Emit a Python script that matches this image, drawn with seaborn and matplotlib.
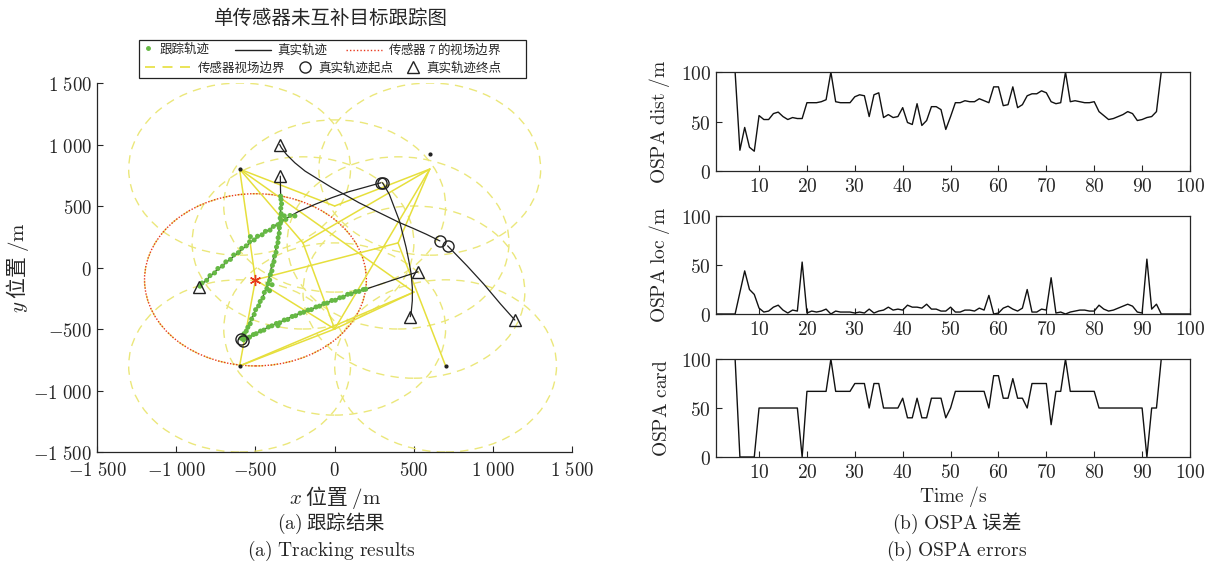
import numpy as np
import pandas as pd
import matplotlib
matplotlib.use('Agg')
import matplotlib.pyplot as plt
from matplotlib.patches import Circle, Rectangle
from matplotlib.lines import Line2D
import seaborn as sns

# ---------------- data ----------------
sensor_x = [-600, 600, -600, 700, 0, 0, -500, -200, 400, 500]
sensor_y = [800, 800, -800, -800, 500, -500, -100, 200, 200, -200]
sensor_r = 700
sensor7 = 6
edges = [(0, 4), (0, 7), (0, 6), (0, 9), (1, 4), (1, 5), (1, 7), (1, 8),
         (2, 6), (2, 5), (2, 9), (3, 8), (5, 7), (5, 6), (5, 9), (6, 8)]

clutter_x = [-600, -600, 700, 600]
clutter_y = [800, -800, -800, 920]

trackA_x = [-592, -549, -507, -464, -430, -410, -390, -368, -352, -343, -340, -342, -343]
trackA_y = [-581, -486, -365, -270, -170, -60, 54, 162, 290, 420, 540, 640, 743]
trackB_x = [-581, -530, -485, -400, -315, -230, -145, -60, 26, 111, 196, 360, 526]
trackB_y = [-595, -560, -527, -473, -427, -378, -338, -292, -251, -208, -176, -105, -35]
trackC_x = [292, 196, 89, -17, -123, -230, -315, -379, -443, -507, -571, -634, -698, -762, -826, -858]
trackC_y = [689, 654, 616, 568, 514, 454, 392, 338, 284, 230, 162, 95, 27, -41, -122, -157]
trackD_x = [302, 345, 377, 409, 430, 451, 468, 483, 490, 490, 483, 477]
trackD_y = [689, 595, 486, 378, 270, 162, 54, -54, -162, -270, -365, -400]
trackE_x = [664, 579, 494, 409, 324, 238, 153, 68, -17, -102, -187, -251, -304, -336, -347]
trackE_y = [216, 270, 319, 365, 419, 473, 527, 589, 649, 716, 784, 851, 919, 973, 1000]
trackF_x = [713, 835, 941, 1047, 1137]
trackF_y = [176, 14, -135, -297, -427]

estA_x = [-590, -580, -572, -558, -548, -533, -524, -508, -499, -480, -470, -453, -444, -428, -421,
          -410, -406, -396, -393, -383, -380, -370, -367, -358, -357, -350, -349, -343, -344, -338,
          -340, -335, -339, -341, -411, -395, -318]
estA_y = [-575, -562, -538, -517, -486, -457, -418, -382, -343, -312, -276, -247, -203, -172, -133,
          -102, -58, -27, 17, 48, 92, 123, 167, 203, 242, 278, 322, 358, 402, 438,
          482, 518, 553, 580, -189, -140, 420]
estB_x = [-575, -555, -537, -513, -496, -468, -447, -418, -396, -368, -347, -318, -296, -268, -247,
          -218, -196, -168, -147, -118, -96, -68, -47, -18, 4, 32, 54, 82, 104, 132, 154, 181, 196, -358]
estB_y = [-588, -572, -566, -545, -538, -517, -509, -484, -474, -455, -449, -427, -422, -398, -392,
          -371, -364, -346, -342, -321, -314, -293, -289, -268, -266, -246, -241, -218, -214, -196,
          -194, -179, -176, -473]
estC_x = [-251, -282, -308, -337, -358, -387, -408, -437, -458, -487, -508, -537, -558, -587, -608,
          -637, -658, -687, -708, -737, -758, -787, -808, -837, -850, -532]
estC_y = [419, 423, 391, 379, 348, 334, 304, 294, 266, 254, 224, 209, 176, 156, 121,
          102, 66, 46, 11, -8, -44, -66, -104, -126, -152, 251]
star_x = [-500]
star_y = [-100]

time_s = list(range(1, 101))
ospa_dist = [100, 100, 100, 100, 100, 21, 44, 24, 20, 56,
             52, 52, 58, 59.5, 55, 52, 54, 53, 53, 69,
             69, 69, 70, 72, 100, 70, 69, 69, 69, 75,
             77, 76, 55, 77, 79, 54, 57, 54, 55, 64,
             49, 47, 68, 46, 51, 65, 65, 62, 42, 55,
             69, 69, 71, 70, 70, 73, 71, 69, 85, 85,
             66, 67, 85, 64, 67, 76, 78, 78, 81, 79,
             70, 68, 69, 100, 70, 71, 70, 69, 69, 70,
             60, 56, 52, 53, 55, 57, 60, 58, 51, 52,
             54, 55, 60, 100, 100, 100, 100, 100, 100, 100]
ospa_loc = [0, 0, 0, 0, 0, 22, 44, 25, 20, 6,
            2, 3, 7, 9, 4, 1, 4, 3, 53, 1,
            3, 2, 3, 5, 0, 3, 2, 2, 2, 1,
            2, 1, 5, 1, 3, 4, 7, 4, 5, 4,
            9, 7, 7, 6, 10, 5, 5, 3, 3, 7,
            2, 2, 4, 4, 3, 6, 4, 19, 0, 1,
            6, 8, 5, 3, 6, 25, 2, 2, 5, 4,
            37, 1, 2, 0, 2, 3, 4, 4, 3, 3,
            9, 5, 3, 4, 6, 8, 10, 8, 2, 1,
            56, 5, 10, 0, 0, 0, 0, 0, 0, 0]
ospa_card = [100, 100, 100, 100, 100, 0, 0, 0, 0, 50,
             50, 50, 50, 50, 50, 50, 50, 50, 0, 67,
             67, 67, 67, 67, 100, 67, 67, 67, 67, 75,
             75, 75, 50, 75, 75, 50, 50, 50, 50, 60,
             40, 40, 60, 40, 40, 60, 60, 60, 40, 50,
             67, 67, 67, 67, 67, 67, 67, 50, 83, 83,
             60, 60, 80, 60, 60, 50, 75, 75, 75, 75,
             33, 67, 67, 100, 67, 67, 67, 67, 67, 67,
             50, 50, 50, 50, 50, 50, 50, 50, 50, 50,
             0, 50, 50, 100, 100, 100, 100, 100, 100, 100]

xy_ticks = [-1500, -1000, -500, 0, 500, 1000, 1500]
xy_ticklabels = [r'$-1\ 500$', r'$-1\ 000$', r'$-500$', r'$0$', r'$500$', r'$1\ 000$', r'$1\ 500$']
t_ticks = [10, 20, 30, 40, 50, 60, 70, 80, 90, 100]
v_ticks = [0, 50, 100]

# ---------------- style ----------------
sns.set_style('ticks')
plt.rcParams['font.family'] = ['Noto Sans CJK SC', 'DejaVu Sans']
plt.rcParams['mathtext.fontset'] = 'cm'
plt.rcParams['xtick.direction'] = 'in'
plt.rcParams['ytick.direction'] = 'in'
plt.rcParams['axes.linewidth'] = 0.9

YEL_C = '#ebe77a'
YEL_L = '#e6df3c'
GREEN = '#66b944'
RED = '#e8381e'
BLK = '#222222'

W, H = 1217, 567
fig = plt.figure(figsize=(12.17, 5.67), dpi=100)

# ---------------- left: tracking ----------------
ax = fig.add_axes([0.0797, 0.2028, 0.3906, 0.6508])
for cx, cy in zip(sensor_x, sensor_y):
    ax.add_patch(Circle((cx, cy), sensor_r, fill=False, edgecolor=YEL_C, lw=1.0,
                        linestyle=(0, (6, 4.5)), zorder=1))
ax.add_patch(Circle((sensor_x[sensor7], sensor_y[sensor7]), sensor_r, fill=False,
                    edgecolor=RED, lw=1.0, linestyle=(0, (1, 1.2)), zorder=2))
for a, b in edges:
    ax.plot([sensor_x[a], sensor_x[b]], [sensor_y[a], sensor_y[b]], color=YEL_L, lw=1.1, zorder=2)

for tx, ty in [(trackA_x, trackA_y), (trackB_x, trackB_y), (trackC_x, trackC_y),
               (trackD_x, trackD_y), (trackE_x, trackE_y), (trackF_x, trackF_y)]:
    ax.plot(tx, ty, color=BLK, lw=0.9, zorder=3)
    ax.plot(tx[0], ty[0], marker='o', ms=8, mfc='none', mec=BLK, mew=1.0, zorder=5)
    ax.plot(tx[-1], ty[-1], marker='^', ms=9, mfc='none', mec=BLK, mew=1.0, zorder=5)

est = pd.DataFrame({'x': estA_x + estB_x + estC_x, 'y': estA_y + estB_y + estC_y})
sns.scatterplot(data=est, x='x', y='y', ax=ax, color=GREEN, s=13, edgecolor='none', zorder=4)
ax.scatter(clutter_x, clutter_y, s=4, color=BLK, zorder=4)
ax.plot(star_x, star_y, marker=(6, 2, 0), ms=8, mew=1.0, color=RED, ls='none', zorder=6)

ax.set_xlim(-1500, 1500)
ax.set_ylim(-1500, 1500)
ax.set_xticks(xy_ticks)
ax.set_xticklabels(xy_ticklabels)
ax.set_yticks(xy_ticks)
ax.set_yticklabels(xy_ticklabels)
ax.tick_params(labelsize=13.5, length=4, width=0.8)
ax.tick_params(axis='x', pad=6)
sns.despine(ax=ax)
ax.set_xlabel(r'$x$ 位置 $\mathrm{/m}$', fontsize=15, labelpad=2)
ax.set_ylabel(r'$y$ 位置 $\mathrm{/m}$', fontsize=15, labelpad=2)

fig.text(331 / W, 1 - 18 / H, '单传感器未互补目标跟踪图', ha='center', va='center', fontsize=14)

# legend: entries placed inside one frame, two rows
base = dict(loc='center left', frameon=False, fontsize=9, borderpad=0.0, borderaxespad=0.0)
y1, y2 = 1 - 49 / H, 1 - 68 / H
fig.legend([Line2D([], [], marker='.', color=GREEN, ls='none', ms=5)], ['跟踪轨迹'],
           bbox_to_anchor=(142 / W, y1), handlelength=1.0, handletextpad=0.4, **base)
fig.legend([Line2D([], [], color=BLK, lw=1.0), Line2D([], [], color=RED, lw=1.0, ls=(0, (1, 1.5)))],
           ['真实轨迹', r'传感器 $7$ 的视场边界'], ncol=2,
           bbox_to_anchor=(235 / W, y1), handlelength=2.9, handletextpad=0.45, columnspacing=1.5, **base)
fig.legend([Line2D([], [], color=YEL_L, lw=1.2, ls=(0, (6, 4.5)))], ['传感器视场边界'],
           bbox_to_anchor=(145 / W, y2), handlelength=3.6, handletextpad=0.6, **base)
fig.legend([Line2D([], [], marker='o', ms=8, mfc='none', mec=BLK, ls='none'),
            Line2D([], [], marker='^', ms=9, mfc='none', mec=BLK, ls='none')],
           ['真实轨迹起点', '真实轨迹终点'], ncol=2,
           bbox_to_anchor=(297 / W, y2), handlelength=1.2, handletextpad=0.5, columnspacing=0.95, **base)
fig.add_artist(Rectangle((139 / W, 1 - 78 / H), (526 - 139) / W, 38 / H,
                         transform=fig.transFigure, fill=False, edgecolor=BLK, lw=0.9))

# ---------------- right: OSPA ----------------
rects = [[0.5883, 0.6984, 0.3895, 0.1746],
         [0.5883, 0.4462, 0.3895, 0.1728],
         [0.5883, 0.1940, 0.3895, 0.1728]]
series = [ospa_dist, ospa_loc, ospa_card]
ylabels = [r'$\mathrm{OSPA\ dist\ /m}$', r'$\mathrm{OSPA\ loc\ /m}$', r'$\mathrm{OSPA\ card}$']
for rect, vals, yl in zip(rects, series, ylabels):
    a = fig.add_axes(rect)
    df = pd.DataFrame({'t': time_s, 'v': vals})
    sns.lineplot(data=df, x='t', y='v', ax=a, color='#111111', lw=1.0)
    a.set_xlim(1, 100)
    a.set_ylim(0, 100)
    a.set_xticks(t_ticks)
    a.set_xticklabels([rf'${v}$' for v in t_ticks])
    a.set_yticks(v_ticks)
    a.set_yticklabels([rf'${v}$' for v in v_ticks])
    a.tick_params(labelsize=14, length=4, width=0.8)
    a.set_xlabel('')
    a.set_ylabel(yl, fontsize=14, labelpad=6)
a.set_xlabel(r'$\mathrm{Time\ /s}$', fontsize=14, labelpad=1)

# ---------------- captions ----------------
fig.text(0.272, 0.0776, r'$\mathrm{(a)}$ 跟踪结果', ha='center', va='center', fontsize=14)
fig.text(0.272, 0.028, r'$\mathrm{(a)\ Tracking\ results}$', ha='center', va='center', fontsize=14)
fig.text(0.786, 0.0776, r'$\mathrm{(b)\ OSPA}$ 误差', ha='center', va='center', fontsize=14)
fig.text(0.786, 0.028, r'$\mathrm{(b)\ OSPA\ errors}$', ha='center', va='center', fontsize=14)

fig.savefig('out.png', dpi=100)
